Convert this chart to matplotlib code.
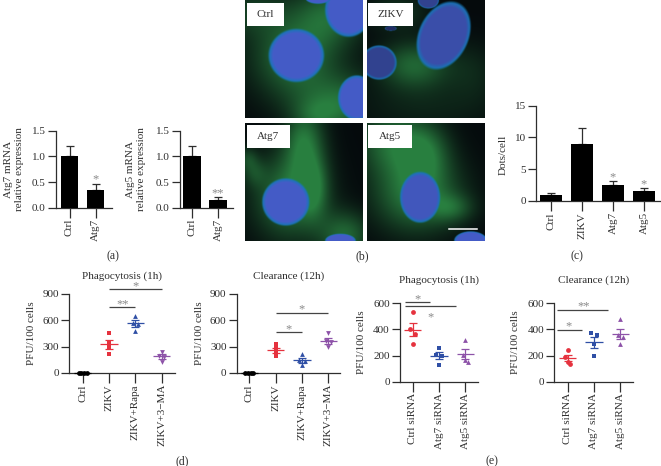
import numpy as np
import matplotlib
matplotlib.use('Agg')
import matplotlib.pyplot as plt

W, H = 661, 466
plt.rcParams['font.family'] = ['Liberation Serif', 'DejaVu Serif']
INK = '#2e2e2e'
GREY = '#8a8a8a'
RED, BLUE, PURPLE = '#e5323e', '#2f4fa5', '#8d52a8'

# (a) mRNA bars
a_labels = ['Ctrl', 'Atg7']
atg7_vals, atg7_err = [1.0, 0.35], [0.2, 0.12]
atg5_vals, atg5_err = [1.0, 0.15], [0.2, 0.05]

# (c) dots per cell
c_labels = ['Ctrl', 'ZIKV', 'Atg7', 'Atg5']
c_vals, c_err = [1.0, 9.0, 2.5, 1.5], [0.2, 2.5, 0.6, 0.5]

# (d) PFU, treatments
d_labels = ['Ctrl', 'ZIKV', 'ZIKV+Rapa', 'ZIKV+3\u2212MA']
d1_points = [[0, 0, 0, 0], [450, 348, 299, 212], [647, 567, 556, 473], [242, 197, 182, 129]]
d1_mean, d1_sem = [0, 325, 563, 189], [0, 48, 38, 25]
d2_points = [[0, 0, 0, 0], [325, 280, 242, 189], [212, 147, 136, 95], [454, 363, 348, 291]]
d2_mean, d2_sem = [0, 257, 144, 367], [0, 30, 25, 35]

# (e) PFU, siRNA
e_labels = ['Ctrl siRNA', 'Atg7 siRNA', 'Atg5 siRNA']
e1_points = [[534, 406, 368, 288], [260, 204, 197, 128], [322, 204, 163, 150]]
e1_mean, e1_sem = [398, 199, 212], [51, 25, 41]
e2_points = [[240, 191, 153, 133], [370, 355, 286, 194], [480, 355, 345, 286]]
e2_mean, e2_sem = [179, 301, 365], [22, 42, 42]

fig = plt.figure(figsize=(W / 100, H / 100), dpi=100, facecolor='white')


def px_axes(left, right, top, bottom):
    return fig.add_axes([left / W, 1 - bottom / H, (right - left) / W, (bottom - top) / H])


def txt(x, y, s, size=8, color=INK, rotation=0, spacing=1.1):
    fig.text(x / W, 1 - y / H, s, fontsize=size, color=color, rotation=rotation,
             ha='center', va='center', linespacing=spacing)


def style(ax, left, right, first, step, labels, ymax, yticks):
    ax.set_xlim((left - first) / step, (right - first) / step)
    ax.set_ylim(0, ymax)
    ax.set_xticks(range(len(labels)))
    ax.set_xticklabels(labels, rotation=90, fontsize=8, color=INK)
    ax.set_yticks(yticks)
    ax.tick_params(axis='y', length=5.8, width=0.9, color=INK, labelsize=8, labelcolor=INK, pad=1.5)
    ax.tick_params(axis='x', length=7, width=0.9, color=INK, pad=1)
    for s in ['top', 'right']:
        ax.spines[s].set_visible(False)
    for s in ['left', 'bottom']:
        ax.spines[s].set_linewidth(0.9)
        ax.spines[s].set_color(INK)
    ax.patch.set_alpha(0)


def bars(ax, vals, err):
    x = np.arange(len(vals))
    ax.bar(x, vals, width=0.68, color='black', zorder=3)
    ax.errorbar(x, vals, yerr=[np.zeros(len(err)), err], fmt='none', ecolor=INK,
                elinewidth=0.9, capsize=3.2, capthick=0.9, zorder=2)


def spread(vals, gap, step=0.1):
    # points of close value sit side by side
    vals = np.asarray(vals, float)
    off = np.zeros(len(vals))
    i = 0
    while i < len(vals):
        j = i
        while j + 1 < len(vals) and abs(vals[j + 1] - vals[j]) < gap:
            j += 1
        n = j - i + 1
        off[i:j + 1] = (np.arange(n) - (n - 1) / 2) * step * (2 if n == 2 else 1)
        i = j + 1
    return off


def scatter(ax, points, mean, sem, colors, markers, gap):
    for i, vals in enumerate(points):
        ax.scatter(i + spread(vals, gap), vals, s=12, c=colors[i], marker=markers[i],
                   linewidths=0, zorder=4, clip_on=False)
        ax.plot([i - 0.33, i + 0.33], [mean[i], mean[i]], color=colors[i], lw=0.9, zorder=3,
                solid_capstyle='butt', clip_on=False)
        if sem[i] > 0:
            ax.errorbar(i, mean[i], yerr=sem[i], fmt='none', ecolor=colors[i], elinewidth=0.9,
                        capsize=3.2, capthick=0.9, zorder=3)


def star(ax, x, y, s='*'):
    ax.text(x, y, s, color=GREY, fontsize=9, ha='center', va='center', clip_on=False)


def sig(ax, x0, x1, y, mark=None, sx=None, dy=0):
    ax.plot([x0, x1], [y, y], color='#444444', lw=0.9, clip_on=False, solid_capstyle='butt')
    if mark:
        star(ax, (x0 + x1) / 2 if sx is None else sx, y + dy, mark)


# ---------- (a) ----------
ax = px_axes(56, 112, 130.7, 207.7)
bars(ax, atg7_vals, atg7_err)
style(ax, 56, 112, 69.5, 26, a_labels, 1.5, [0, 0.5, 1.0, 1.5])
ax.set_yticklabels(['0.0', '0.5', '1.0', '1.5'])
star(ax, 1, 0.55)
txt(14, 169, 'Atg7 mRNA\nrelative expression', rotation=90, spacing=1.4)

ax = px_axes(180, 233, 130.7, 207.7)
bars(ax, atg5_vals, atg5_err)
style(ax, 180, 233, 192, 26, a_labels, 1.5, [0, 0.5, 1.0, 1.5])
ax.set_yticklabels(['0.0', '0.5', '1.0', '1.5'])
star(ax, 1, 0.28, '**')
txt(136, 169, 'Atg5 mRNA\nrelative expression', rotation=90, spacing=1.4)

# ---------- (c) ----------
ax = px_axes(536, 661, 105.7, 201)
bars(ax, c_vals, c_err)
style(ax, 536, 661, 551, 31, c_labels, 15, [0, 5, 10, 15])
star(ax, 2, 3.7)
star(ax, 3, 2.6)
txt(503, 155, 'Dots/cell', rotation=90)

# ---------- (d) ----------
d_colors = ['black', RED, BLUE, PURPLE]
d_markers = ['o', 's', '^', 'v']
ax = px_axes(69.3, 175, 293.7, 373)
scatter(ax, d1_points, d1_mean, d1_sem, d_colors, d_markers, 30)
style(ax, 69.3, 175, 82.7, 26.3, d_labels, 900, [0, 300, 600, 900])
sig(ax, 1, 3, 949, '*', dy=30)
sig(ax, 1, 2, 749, '**', dy=30)
txt(122, 275.7, 'Phagocytosis (1h)', size=8)
txt(32, 333, 'PFU/100 cells', rotation=90)

ax = px_axes(236.7, 340, 293.7, 373)
scatter(ax, d2_points, d2_mean, d2_sem, d_colors, d_markers, 30)
style(ax, 236.7, 340, 249.3, 26.3, d_labels, 900, [0, 300, 600, 900])
sig(ax, 1, 3, 684, '*', dy=40)
sig(ax, 1, 2, 461, '*', dy=40)
txt(289, 275.7, 'Clearance (12h)', size=8)
txt(199, 333, 'PFU/100 cells', rotation=90)

# ---------- (e) ----------
e1_colors = [RED, BLUE, PURPLE]
e_markers = ['o', 's', '^']
ax = px_axes(400, 478, 303.3, 381.7)
scatter(ax, e1_points, e1_mean, e1_sem, e1_colors, e_markers, 45)
style(ax, 400, 478, 412.7, 26.3, e_labels, 600, [0, 200, 400, 600])
sig(ax, -0.29, 0.66, 608, '*', sx=0.2, dy=25)
sig(ax, -0.29, 1.65, 577)
star(ax, 0.66, 490)
txt(439, 280, 'Phagocytosis (1h)', size=8)
txt(361, 342, 'PFU/100 cells', rotation=90)

ax = px_axes(554.3, 633, 303.3, 381.7)
scatter(ax, e2_points, e2_mean, e2_sem, e1_colors, e_markers, 45)
style(ax, 554.3, 633, 567.7, 26.3, e_labels, 600, [0, 200, 400, 600])
sig(ax, -0.39, 1.54, 549, '**', sx=0.6, dy=25)
sig(ax, -0.42, 0.56, 398, '*', sx=0.03, dy=22)
txt(593.7, 280, 'Clearance (12h)', size=8)
txt(516, 342, 'PFU/100 cells', rotation=90)


# ---------- (b) micrographs, painted from soft blobs ----------
def micrograph(cells, nuclei):
    yy, xx = np.mgrid[0:1:240j, 0:1:240j]
    green = np.zeros_like(xx)
    for cx, cy, rx, ry, amp in cells:
        green += amp * np.exp(-(((xx - cx) / rx) ** 2 + ((yy - cy) / ry) ** 2))
    green = np.clip(green, 0, 1)
    img = np.dstack([0.02 + green * 0.14, 0.04 + green * 0.46, 0.05 + green * 0.2])
    for cx, cy, rx, ry, ang, tone in nuclei:
        t = np.deg2rad(ang)
        u = ((xx - cx) * np.cos(t) + (yy - cy) * np.sin(t)) / rx
        v = (-(xx - cx) * np.sin(t) + (yy - cy) * np.cos(t)) / ry
        r = np.sqrt(u ** 2 + v ** 2)
        mask = np.clip((1.04 - r) / 0.08, 0, 1)[..., None]
        rim = np.clip((r - 0.84) / 0.16, 0, 1)[..., None]
        core = np.array([0.27, 0.36, 0.78]) * tone
        edge = np.array([0.08, 0.47, 0.72])
        img = img * (1 - mask) + (core * (1 - rim) + edge * rim) * mask
    return np.clip(img, 0, 1)


panels = [
    ('Ctrl', (244.7, 362, 0, 118), (246.7, 284, 2.7, 26),
     [(0.42, 0.48, 0.36, 0.34, 0.85), (0.72, 0.12, 0.3, 0.26, 0.7), (0.85, 0.88, 0.4, 0.24, 0.8),
      (0.05, 0.1, 0.3, 0.2, 0.4), (0.6, 1.0, 0.2, 0.15, 0.45)],
     [(0.435, 0.47, 0.235, 0.225, 0, 1.0), (0.88, 0.08, 0.2, 0.23, 0, 1.0),
      (0.95, 0.83, 0.16, 0.19, 0, 1.0), (0.62, -0.02, 0.11, 0.05, 0, 1.0)]),
    ('ZIKV', (366.7, 484, 0, 118), (368, 413, 2.7, 26),
     [(0.4, 0.55, 0.3, 0.2, 0.75), (0.25, 0.1, 0.25, 0.15, 0.35), (0.5, 0.9, 0.6, 0.25, 0.2),
      (0.9, 0.6, 0.22, 0.25, 0.2)],
     [(0.65, 0.3, 0.21, 0.3, 25, 0.85), (0.1, 0.53, 0.15, 0.145, 0, 0.72),
      (0.52, 0.0, 0.09, 0.07, 0, 0.72), (0.2, 0.24, 0.05, 0.02, 0, 0.5)]),
    ('Atg7', (244.7, 362, 122.7, 240.7), (246.7, 290, 124.7, 148),
     [(0.38, 0.62, 0.3, 0.36, 0.9), (0.5, 0.15, 0.17, 0.32, 0.85), (0.85, 0.95, 0.22, 0.2, 0.75),
      (0.58, 0.55, 0.12, 0.25, 0.6), (0.08, 0.42, 0.1, 0.12, 0.35), (0.02, 0.3, 0.08, 0.1, 0.4)],
     [(0.345, 0.67, 0.2, 0.2, 0, 1.0), (0.81, 1.0, 0.13, 0.06, 0, 1.0)]),
    ('Atg5', (366.7, 484, 122.7, 240.7), (368, 412, 124.7, 148),
     [(0.42, 0.6, 0.36, 0.32, 0.95), (0.22, 0.15, 0.3, 0.28, 0.8), (0.5, 0.25, 0.2, 0.25, 0.6),
      (0.72, 0.72, 0.18, 0.12, 0.5)],
     [(0.45, 0.63, 0.17, 0.215, 0, 0.95), (0.88, 1.0, 0.14, 0.08, 0, 1.0)]),
]
for name, ext, box, cells, nuclei in panels:
    ax = px_axes(ext[0], ext[1], ext[2], ext[3])
    ax.imshow(micrograph(cells, nuclei), aspect='auto', interpolation='bilinear')
    ax.axis('off')
    bx = px_axes(box[0], box[1], box[2], box[3])
    bx.set_facecolor('white')
    bx.set_xticks([])
    bx.set_yticks([])
    for s in bx.spines.values():
        s.set_visible(False)
    txt((box[0] + box[1]) / 2, (box[2] + box[3]) / 2, name, size=8)

fig.add_artist(plt.Line2D([449 / W, 477 / W], [1 - 229 / H, 1 - 229 / H], color='white', lw=1.1))

# panel captions
for s, x, y in [('(a)', 113, 256), ('(b)', 362, 256), ('(c)', 577, 256), ('(d)', 182, 461), ('(e)', 492, 461)]:
    txt(x, y, s, size=8.5)

fig.savefig('out.png', dpi=100)
